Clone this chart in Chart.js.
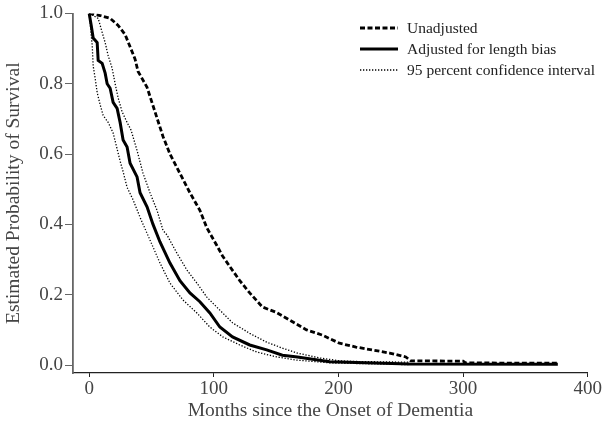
<!DOCTYPE html>
<html>
<head>
<meta charset="utf-8">
<script src="https://cdn.jsdelivr.net/npm/chart.js@4"></script>
<style>
  html, body { margin: 0; padding: 0; background: #fff; }
  #wrap { width: 603px; height: 423px; }
</style>
</head>
<body>
<div id="wrap"><canvas id="chart" width="603" height="423"></canvas></div>
<script>
// Estimated survival curves (months, probability)
const unadjMonths = [0, 8.8, 16.8, 23.2, 28.8, 36.8, 39.2, 46.4, 52.8, 59.2, 64.8, 72.8, 80.8, 88.8, 94.4, 102.4, 107, 112.8, 120.8, 128.8, 139, 150, 160.8, 174.4, 187, 200.8, 214, 227, 241, 254, 258, 300, 302, 376]
const unadjSurv   = [1.0, 0.994, 0.986, 0.966, 0.94, 0.87, 0.835, 0.79, 0.72, 0.65, 0.60, 0.545, 0.49, 0.44, 0.39, 0.34, 0.31, 0.28, 0.24, 0.205, 0.165, 0.15, 0.128, 0.10, 0.085, 0.062, 0.051, 0.043, 0.034, 0.023, 0.012, 0.011, 0.006, 0.005]

const adjMonths = [0, 1.6, 3.2, 6.4, 7.2, 10.4, 12.8, 14.4, 16.8, 19.2, 22.4, 24.8, 27.2, 30.4, 32.8, 38.4, 40.8, 46.4, 51.2, 56.8, 64.8, 72.8, 80.8, 88.8, 96.8, 104.8, 115, 128.8, 142.4, 155, 167, 193, 257, 376]
const adjSurv   = [1.0, 0.966, 0.93, 0.917, 0.866, 0.858, 0.83, 0.80, 0.787, 0.747, 0.73, 0.69, 0.64, 0.62, 0.574, 0.535, 0.49, 0.45, 0.40, 0.35, 0.29, 0.24, 0.205, 0.18, 0.148, 0.108, 0.08, 0.057, 0.043, 0.028, 0.023, 0.009, 0.003, 0.002]

const lowerMonths = [0, 2.4, 3.2, 4.8, 6.4, 8.8, 11.2, 15.2, 19.2, 24.8, 27.2, 30.4, 35.2, 40.8, 48.8, 56.8, 64.8, 75.2, 86.4, 96.8, 107.2, 120.8, 134.4, 150.4, 166.4, 193, 257]
const lowerSurv   = [1.0, 0.91, 0.85, 0.815, 0.775, 0.74, 0.71, 0.69, 0.66, 0.58, 0.55, 0.505, 0.47, 0.42, 0.355, 0.29, 0.233, 0.185, 0.148, 0.108, 0.08, 0.057, 0.037, 0.023, 0.014, 0.006, 0.001]

const upperMonths = [0, 7.2, 10.4, 12.8, 15.2, 18.4, 20.8, 23.2, 26.4, 30.4, 33.6, 38.4, 43.2, 48.8, 54.4, 59.2, 62.4, 70.4, 78.4, 86.4, 94.4, 104.8, 115, 128.8, 142.4, 155, 167, 185, 201, 214, 257]
const upperSurv   = [1.0, 0.986, 0.946, 0.917, 0.88, 0.844, 0.80, 0.76, 0.72, 0.69, 0.668, 0.61, 0.545, 0.49, 0.44, 0.383, 0.37, 0.318, 0.27, 0.233, 0.193, 0.156, 0.12, 0.09, 0.065, 0.048, 0.034, 0.02, 0.012, 0.01, 0.008]

const xTicks = [0, 100, 200, 300, 400]
const yTicks = [0, 0.2, 0.4, 0.6, 0.8, 1.0]

const serif = "'Liberation Serif', 'DejaVu Serif', serif"

const toPoints = (xs, ys) => xs.map((x, i) => ({ x: x, y: ys[i] }))

// Legend drawn top right, inside the plot (3 entries, CI shown once)
const legendItems = [
  { text: 'Unadjusted', width: 2.8, dash: [5, 2.5] },
  { text: 'Adjusted for length bias', width: 3, dash: [] },
  { text: '95 percent confidence interval', width: 1.3, dash: [1.3, 1.7] }
]

const insideLegend = {
  id: 'insideLegend',
  afterDraw(chart) {
    const ctx = chart.ctx
    ctx.save()
    ctx.font = "15.5px " + serif
    ctx.fillStyle = '#222'
    ctx.textBaseline = 'middle'
    legendItems.forEach((item, i) => {
      const y = 28 + i * 21
      ctx.beginPath()
      ctx.setLineDash(item.dash)
      ctx.lineWidth = item.width
      ctx.strokeStyle = '#000'
      ctx.moveTo(360, y)
      ctx.lineTo(398, y)
      ctx.stroke()
      ctx.setLineDash([])
      ctx.fillText(item.text, 407, y + 1)
    })
    ctx.restore()
  }
}

const curve = (label, pts, width, dash) => ({
  label: label,
  data: pts,
  borderColor: '#000',
  borderWidth: width,
  borderDash: dash,
  pointRadius: 0,
  fill: false,
  tension: 0
})

new Chart(document.getElementById('chart'), {
  type: 'line',
  data: {
    datasets: [
      curve('Unadjusted', toPoints(unadjMonths, unadjSurv), 2.8, [5, 2.5]),
      curve('Adjusted for length bias', toPoints(adjMonths, adjSurv), 3, []),
      curve('95 percent confidence interval', toPoints(lowerMonths, lowerSurv), 1.3, [1.3, 1.7]),
      curve('95 percent confidence interval (upper)', toPoints(upperMonths, upperSurv), 1.3, [1.3, 1.7])
    ]
  },
  options: {
    responsive: false,
    animation: false,
    layout: { padding: { top: 13, right: 14, left: 0, bottom: 0 } },
    plugins: {
      legend: { display: false },
      tooltip: { enabled: false }
    },
    scales: {
      x: {
        type: 'linear',
        min: -13,
        max: 400,
        afterBuildTicks: (axis) => { axis.ticks = xTicks.map(v => ({ value: v })) },
        afterFit: (axis) => { axis.height = 50 },
        border: { display: true, color: '#222', width: 1.2 },
        grid: { drawOnChartArea: false, drawTicks: true, tickLength: 4, color: '#222' },
        ticks: {
          color: '#444',
          font: { family: serif, size: 19 },
          padding: 1,
          maxRotation: 0
        },
        title: {
          display: true,
          text: 'Months since the Onset of Dementia',
          color: '#444',
          font: { family: serif, size: 19.5 },
          padding: { top: 0, bottom: 0 }
        }
      },
      y: {
        type: 'linear',
        min: -0.0227,
        max: 1.0,
        afterBuildTicks: (axis) => { axis.ticks = yTicks.map(v => ({ value: v })) },
        afterFit: (axis) => { axis.width = 73 },
        border: { display: true, color: '#666', width: 1.8 },
        grid: { drawOnChartArea: false, drawTicks: true, tickLength: 8, color: '#666' },
        ticks: {
          color: '#444',
          font: { family: serif, size: 19 },
          padding: 2,
          callback: (v) => v.toFixed(1)
        },
        title: {
          display: true,
          text: 'Estimated Probability of Survival',
          color: '#444',
          font: { family: serif, size: 19.5 },
          padding: { top: 2, bottom: 0 }
        }
      }
    }
  },
  plugins: [insideLegend]
})
</script>
</body>
</html>
